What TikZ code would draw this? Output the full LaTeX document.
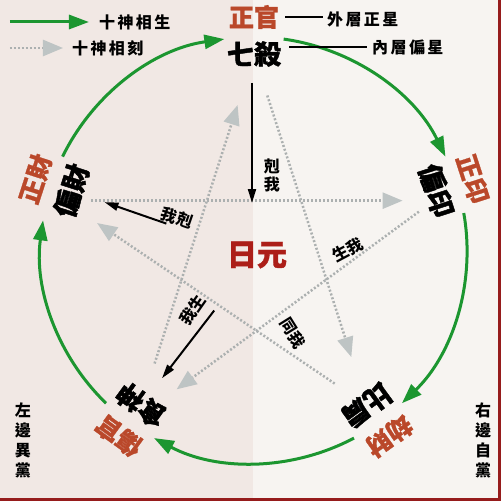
\documentclass[tikz,border=0pt]{standalone}
\usepackage{fontspec}
\newfontfamily\cjk{Noto Sans CJK TC}
\newfontfamily\cjkwide[LetterSpace=15]{Noto Sans CJK TC}
\usetikzlibrary{arrows.meta}
\definecolor{bgl}{RGB}{241,232,228}
\definecolor{bgr}{RGB}{247,244,241}
\definecolor{edge}{RGB}{150,28,28}
\definecolor{lgreen}{RGB}{28,150,48}
\definecolor{dotgray}{RGB}{172,176,176}
\definecolor{tipgray}{RGB}{190,196,196}
\definecolor{starred}{RGB}{186,72,42}
\definecolor{yuanred}{RGB}{172,30,24}

\begin{document}
\begin{tikzpicture}[x=1pt,y=1pt,
  outer/.style={inner sep=0, text=starred, font=\cjk\bfseries\addfontfeature{FakeBold=1}\fontsize{25}{25}\selectfont},
  inner/.style={inner sep=0, font=\cjk\bfseries\addfontfeature{FakeBold=1.5}\fontsize{27}{27}\selectfont},
  small/.style={inner sep=0, align=center, font=\cjk\bfseries\fontsize{16}{18}\selectfont},
  legend/.style={inner sep=0, font=\cjkwide\bfseries\fontsize{16}{16}\selectfont},
  side/.style={inner sep=0, align=center, font=\cjk\bfseries\fontsize{16}{20}\selectfont},
  sheng/.style={line width=3, draw=lgreen, -{Triangle[length=20,width=14,color=lgreen]}},
  ke/.style={line width=2.5, draw=dotgray, dash pattern=on 2 off 2,
    -{Triangle[length=20,width=16,color=tipgray]}},
  me/.style={line width=2, -{Triangle[length=14,width=8]}}]
\useasboundingbox (-254,-251) rectangle (247,250);
\fill[bgl] (-254,-251) rectangle (-1,250);
\fill[bgr] (-1,-251) rectangle (247,250);
\fill[edge] (244,-251) rectangle (247,250);
\fill[edge] (-254,-251) rectangle (247,-248);

% outer ring
\foreach \a/\b in {82/26,10/-46,-62/-118,-134/-188,154/98}
  \draw[sheng] (\a:213) arc[start angle=\a, end angle=\b, radius=213];

% stars
\node[outer] (zg) at (90:233) {正官};
\node[outer, rotate=-72] (zy) at (18:230) {正印};
\node[outer, rotate=-144] (jc) at (-54:230) {劫財};
\node[outer, rotate=144] (sg) at (-126:230) {傷官};
\node[outer, rotate=72] (zc) at (162:230) {正財};
\node[inner] (qs) at (90:196) {七殺};
\node[inner, rotate=-72] (py) at (18:192) {偏印};
\node[inner, rotate=-144] (bj) at (-54:192) {比肩};
\node[inner, rotate=144] (ss) at (-126:192) {食神};
\node[inner, rotate=72] (pc) at (162:192) {偏財};
\node[inner, text=yuanred, font=\cjk\bfseries\addfontfeature{FakeBold=1}\fontsize{30}{30}\selectfont] (ry) at (3,-5) {日元};

% ke cycle
\draw[ke, shorten <=20, shorten >=34] ([yshift=-10]pc.center) -- ([yshift=-10]py.center);
\draw[ke, shorten <=30, shorten >=37] (qs) -- (bj);
\draw[ke, shorten <=30, shorten >=40] (ss) -- (qs);
\draw[ke, shorten <=22, shorten >=44] ([yshift=-8]py.center) -- ([yshift=-10]ss.center);
\draw[ke, shorten <=25, shorten >=31] (bj) -- ([yshift=-15]pc.center);

% day master
\draw[me, shorten <=29, shorten >=52] ([xshift=-2]qs.center) -- ([xshift=-5]ry.center);
\draw[me, shorten <=64, shorten >=22] (ry) -- (pc);
\draw[me, shorten <=53, shorten >=21] (ry) -- (ss);
\node[small] (kewo) at (18,75) {剋\\我};
\node[small, rotate=-19] (woke) at (-77,32) {我剋};
\node[small, rotate=55] (wosheng) at (-61,-60) {我生};
\node[small, rotate=28] (shengwo) at (94,0) {生我};
\node[small, rotate=-58] (tongwo) at (39,-83) {同我};

% legend
\coordinate (g0) at (-244,228);
\node[legend, anchor=west] (lsheng) at (-155,228) {十神相生};
\draw[sheng, shorten >=10] (g0) -- (lsheng.west);
\coordinate (k0) at (-244,202);
\node[legend, anchor=west] (lke) at (-182,202) {十神相刻};
\draw[ke, shorten >=9] (k0) -- (lke.west);
\node[legend, anchor=west] (wai) at (73,231) {外層正星};
\draw[line width=1.5, shorten <=6, shorten >=4] (zg.east) -- (zg.east -| wai.west);
\node[legend, anchor=west] (nei) at (118,203) {內層偏星};
\draw[line width=1.5, shorten <=8, shorten >=5] ([yshift=7]qs.east) -- ([yshift=7]qs.east -| nei.west);
\node[side] (zuo) at (-231,-190) {左\\邊\\異\\黨};
\node[side] (you) at (229,-190) {右\\邊\\自\\黨};
\end{tikzpicture}
\end{document}
